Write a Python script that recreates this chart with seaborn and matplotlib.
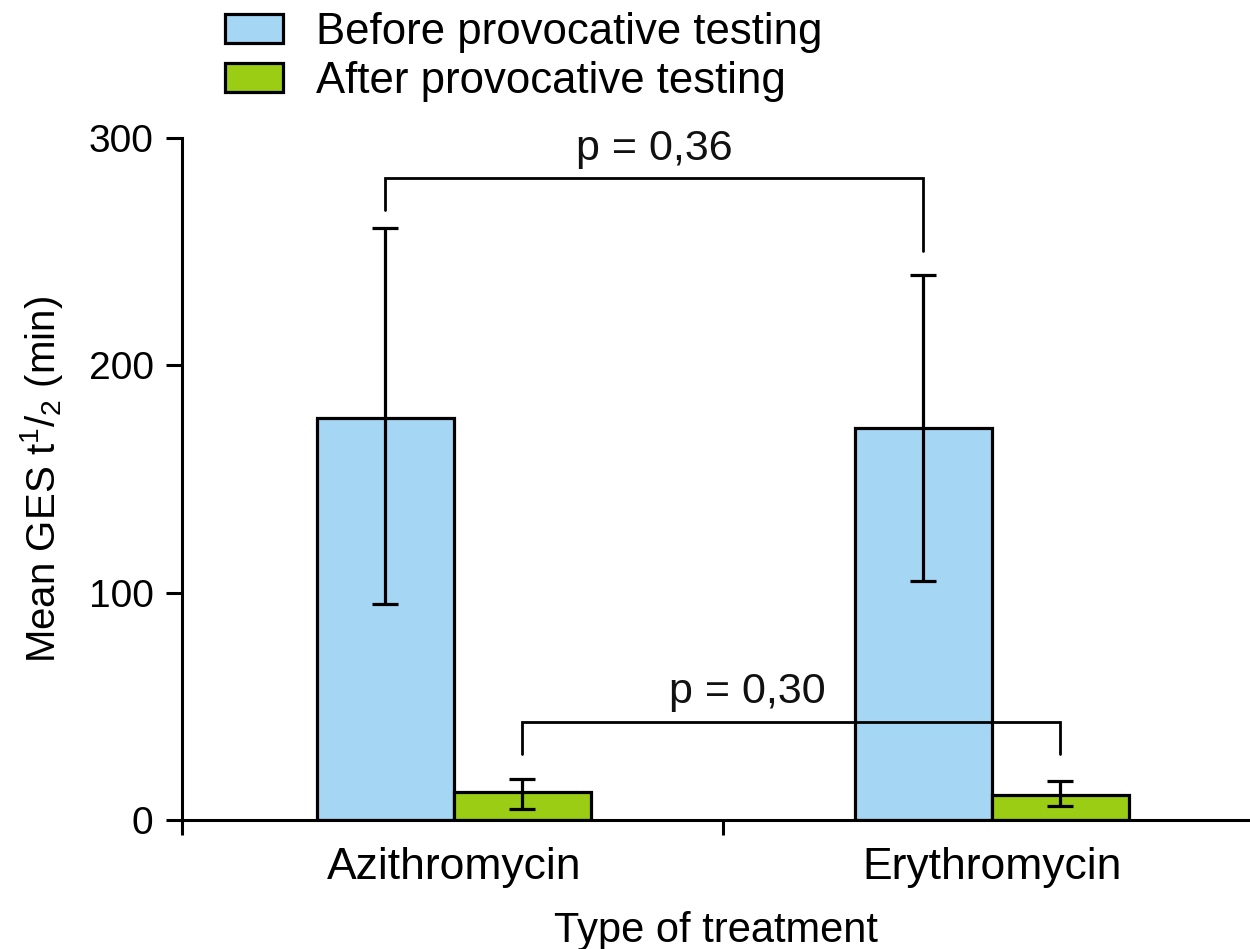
import numpy as np
import pandas as pd
import seaborn as sns
import matplotlib.pyplot as plt
from matplotlib.patches import Patch

# ---------------- data ----------------
treatments = ["Azithromycin", "Erythromycin"]
groups = ["Before provocative testing", "After provocative testing"]

before_mean = [177.1, 172.5]
before_low = [95.2, 105.3]
before_high = [260.4, 239.6]

after_mean = [12.3, 11.3]
after_low = [4.8, 6.2]
after_high = [18.3, 17.2]

p_labels = ["p = 0,36", "p = 0,30"]
bracket_top = [282.6, 43.1]
bracket_leg_ends = [[268.2, 250.2], [29.1, 29.1]]
p_text_y = [290.4, 51.7]

colors = ["#A5D7F5", "#9ACD14"]

# ---------------- build table ----------------
df = pd.DataFrame({
    "treatment": treatments * 2,
    "group": [groups[0]] * 2 + [groups[1]] * 2,
    "value": before_mean + after_mean,
})

sns.set_theme(style="white")
plt.rcParams["font.family"] = ["Liberation Sans", "DejaVu Sans"]
plt.rcParams["mathtext.fontset"] = "custom"
plt.rcParams["mathtext.rm"] = "Liberation Sans"
plt.rcParams["mathtext.it"] = "Liberation Sans:italic"
plt.rcParams["text.color"] = "black"
plt.rcParams["axes.labelcolor"] = "black"
plt.rcParams["xtick.color"] = "black"
plt.rcParams["ytick.color"] = "black"

fig = plt.figure(figsize=(12.5, 9.49), dpi=100)
ax = fig.add_axes([0.1456, 0.1356, 0.8544, 0.719])

sns.barplot(data=df, x="treatment", y="value", hue="group",
            hue_order=groups, order=treatments, palette=colors,
            saturation=1, width=0.51, errorbar=None, legend=False,
            edgecolor="black", linewidth=2.3, ax=ax)

# error bars at bar centres
centres = []
for cont, mean, lo, hi in zip(ax.containers,
                              [before_mean, after_mean],
                              [before_low, after_low],
                              [before_high, after_high]):
    xs = [b.get_x() + b.get_width() / 2 for b in cont]
    centres.append(xs)
    m = np.array(mean)
    yerr = [m - np.array(lo), np.array(hi) - m]
    ax.errorbar(xs, m, yerr=yerr, fmt="none", ecolor="black",
                elinewidth=2.3, capsize=9.5, capthick=2.3, zorder=5)

# significance brackets
text_x = [np.mean(centres[0]), 0.546]
for i, xs in enumerate(centres):
    y = bracket_top[i]
    ends = bracket_leg_ends[i]
    ax.plot([xs[0], xs[0], xs[1], xs[1]], [ends[0], y, y, ends[1]],
            color="black", lw=2, solid_joinstyle="miter", zorder=6,
            clip_on=False)
    ax.text(text_x[i], p_text_y[i], p_labels[i], ha="center",
            va="baseline", fontsize=31, color="#111111")

ax.set_yticks([0, 100, 200, 300])
ax.set_xticks([-0.505, 0.5], minor=True)
ax.set_xlim(-0.505, 1.48)
ax.set_ylim(0, 300)
ax.tick_params(axis="y", labelsize=28, length=11.5, width=2.2,
               direction="out", pad=9, left=True)
ax.tick_params(axis="x", which="major", labelsize=32, length=0, pad=19)
ax.tick_params(axis="x", which="minor", length=11, width=2.2,
               direction="out", bottom=True)

for s in ["top", "right"]:
    ax.spines[s].set_visible(False)
for s in ["left", "bottom"]:
    ax.spines[s].set_linewidth(2.2)
    ax.spines[s].set_color("black")

ax.set_xlabel("Type of treatment", fontsize=30, labelpad=17)
ax.set_ylabel(r"Mean GES t$^{1}$/$_{2}$ (min)", fontsize=29, labelpad=17)

handles = [Patch(facecolor=c, edgecolor="black", linewidth=2.3) for c in colors]
fig.legend(handles, groups, loc="upper left", bbox_to_anchor=(0.18, 0.987),
           frameon=False, fontsize=31.5, handlelength=1.32, handleheight=0.64,
           handletextpad=0.75, labelspacing=0.17, borderpad=0,
           borderaxespad=0)

fig.savefig("out.png", dpi=100)
